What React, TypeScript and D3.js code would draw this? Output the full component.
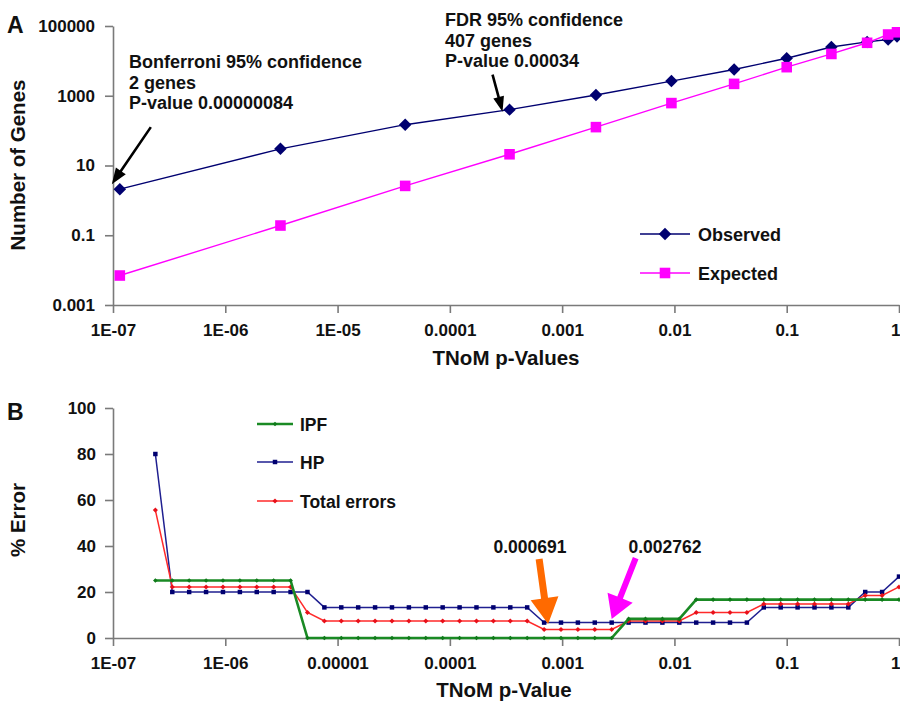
import React, { useEffect, useRef } from 'react';
import * as d3 from 'd3';

// ---- panel A: observed vs expected gene counts
const pValuesA = [1.15e-7, 3.1e-6, 4e-5, 3.4e-4, 2e-3, 9.4e-3, 0.034, 0.1, 0.25, 0.52, 0.8, 0.96];
const observed = [2.1, 30, 148, 400, 1050, 2630, 5650, 11900, 25000, 35000, 41000, 50000];
const expected = [0.007, 0.19, 2.6, 21, 126, 616, 2190, 6600, 15800, 33000, 57000, 66000];

const xTicks = [1e-7, 1e-6, 1e-5, 1e-4, 1e-3, 1e-2, 0.1, 1];
const xLabelsA = ['1E-07', '1E-06', '1E-05', '0.0001', '0.001', '0.01', '0.1', '1'];
const xLabelsB = ['1E-07', '1E-06', '0.00001', '0.0001', '0.001', '0.01', '0.1', '1'];
const yTicksA = [0.001, 0.1, 10, 1000, 100000];
const yLabelsA = ['0.001', '0.1', '10', '1000', '100000'];

// ---- panel B: % error by p-value cutoff
const pValuesB = [
  2.384e-7, 3.372e-7, 4.768e-7, 6.743e-7, 9.537e-7, 1.349e-6, 1.907e-6, 2.697e-6, 3.815e-6,
  5.395e-6, 7.629e-6, 1.079e-5, 1.526e-5, 2.158e-5, 3.052e-5, 4.316e-5, 6.104e-5, 8.63e-5,
  1.221e-4, 1.726e-4, 2.441e-4, 3.453e-4, 4.883e-4, 6.91e-4, 9.766e-4, 1.381e-3, 1.953e-3,
  2.762e-3, 3.906e-3, 5.524e-3, 7.813e-3, 1.105e-2, 1.563e-2, 2.21e-2, 3.125e-2, 4.419e-2,
  6.25e-2, 8.839e-2, 0.125, 0.1768, 0.25, 0.3536, 0.5, 0.7071, 1,
];
const ipf = [
  25, 25, 25, 25, 25, 25, 25, 25, 25,
  0, 0, 0, 0, 0, 0, 0, 0, 0, 0, 0, 0, 0, 0, 0, 0, 0, 0, 0,
  8.3, 8.3, 8.3, 8.3,
  16.7, 16.7, 16.7, 16.7, 16.7, 16.7, 16.7, 16.7, 16.7, 16.7, 16.7, 16.7, 16.7,
];
const hp = [
  80,
  20, 20, 20, 20, 20, 20, 20, 20, 20,
  13.3, 13.3, 13.3, 13.3, 13.3, 13.3, 13.3, 13.3, 13.3, 13.3, 13.3, 13.3, 13.3,
  6.7, 6.7, 6.7, 6.7, 6.7, 6.7, 6.7, 6.7, 6.7, 6.7, 6.7, 6.7, 6.7,
  13.3, 13.3, 13.3, 13.3, 13.3, 13.3,
  20, 20,
  26.7,
];
const totalErr = [
  55.6,
  22.2, 22.2, 22.2, 22.2, 22.2, 22.2, 22.2, 22.2,
  11.1,
  7.4, 7.4, 7.4, 7.4, 7.4, 7.4, 7.4, 7.4, 7.4, 7.4, 7.4, 7.4, 7.4,
  3.7, 3.7, 3.7, 3.7, 3.7,
  7.4, 7.4, 7.4, 7.4,
  11.1, 11.1, 11.1, 11.1,
  14.8, 14.8, 14.8, 14.8, 14.8, 14.8,
  18.5, 18.5,
  22.2,
];
const yTicksB = [0, 20, 40, 60, 80, 100];

const FONT = '"Liberation Sans", Arial, sans-serif';
const AXIS = '#7a7a7a';

type Pt = [number, number];

// polygon for a filled arrow from (x1,y1) to tip (x2,y2)
function blockArrow(x1: number, y1: number, x2: number, y2: number, shaftW: number, headLen: number, headW: number) {
  const L = Math.hypot(x2 - x1, y2 - y1);
  const ux = (x2 - x1) / L, uy = (y2 - y1) / L;
  const px = -uy, py = ux;
  const bx = x2 - ux * headLen, by = y2 - uy * headLen;
  const pts: Pt[] = [
    [x1 + px * shaftW / 2, y1 + py * shaftW / 2],
    [bx + px * shaftW / 2, by + py * shaftW / 2],
    [bx + px * headW / 2, by + py * headW / 2],
    [x2, y2],
    [bx - px * headW / 2, by - py * headW / 2],
    [bx - px * shaftW / 2, by - py * shaftW / 2],
    [x1 - px * shaftW / 2, y1 - py * shaftW / 2],
  ];
  return 'M' + pts.map(p => p.join(',')).join('L') + 'Z';
}

const App = () => {
  const svgRef = useRef<SVGSVGElement>(null);

  useEffect(() => {
    const svg = d3.select(svgRef.current);
    svg.selectAll('*').remove();
    svg.style('font-family', FONT);

    const xA = d3.scaleLog().domain([1e-7, 1]).range([113, 899]);
    const yA = d3.scaleLog().domain([0.001, 100000]).range([305, 26]);
    const xB = d3.scaleLog().domain([1e-7, 1]).range([113, 899]);
    const yB = d3.scaleLinear().domain([0, 100]).range([638, 408]);

    const styleAxis = (g: any, size: number) => {
      g.select('.domain').attr('stroke', AXIS).attr('stroke-width', 1.6);
      g.selectAll('.tick line').attr('stroke', AXIS).attr('stroke-width', 1.6);
      g.selectAll('.tick text')
        .attr('fill', '#111')
        .style('font-family', FONT)
        .style('font-weight', 'bold')
        .style('font-size', `${size}px`);
      // the last x label sits on the right edge: keep it inside the page
      g.selectAll('.tick text').filter((d: number) => d === 1 && g.attr('data-x') === '1')
        .attr('text-anchor', 'end').attr('dx', '1');
    };

    // ---------- Panel A ----------
    const gA = svg.append('g');
    const axA = gA.append('g').attr('data-x', '1').attr('transform', 'translate(0,305)')
      .call(d3.axisBottom(xA).tickValues(xTicks).tickFormat((_d, i) => xLabelsA[i]).tickSize(8).tickSizeOuter(0).tickPadding(11));
    styleAxis(axA, 17);
    const ayA = gA.append('g').attr('transform', 'translate(113,0)')
      .call(d3.axisLeft(yA).tickValues(yTicksA).tickFormat((_d, i) => yLabelsA[i]).tickSize(8).tickSizeOuter(0).tickPadding(10));
    styleAxis(ayA, 17);

    const lineA = d3.line<number>().x((_d, i) => xA(pValuesA[i])).y(d => yA(d));
    const NAVY = '#000070';
    const PINK = '#ff00ff';

    gA.append('path').datum(observed).attr('d', lineA).attr('fill', 'none').attr('stroke', NAVY).attr('stroke-width', 1.4);
    gA.selectAll('.obs').data(observed).enter().append('path')
      .attr('d', d3.symbol().type(d3.symbolSquare).size(78)())
      .attr('transform', (d, i) => `translate(${xA(pValuesA[i])},${yA(d)}) rotate(45)`)
      .attr('fill', NAVY);

    gA.append('path').datum(expected).attr('d', lineA).attr('fill', 'none').attr('stroke', PINK).attr('stroke-width', 1.4);
    gA.selectAll('.exp').data(expected).enter().append('path')
      .attr('d', d3.symbol().type(d3.symbolSquare).size(112)())
      .attr('transform', (d, i) => `translate(${xA(pValuesA[i])},${yA(d)})`)
      .attr('fill', PINK);

    // legend A
    const legA = [
      { name: 'Observed', color: NAVY, y: 234, sym: 'd' },
      { name: 'Expected', color: PINK, y: 273, sym: 's' },
    ];
    legA.forEach(l => {
      gA.append('line').attr('x1', 640).attr('x2', 690).attr('y1', l.y).attr('y2', l.y).attr('stroke', l.color).attr('stroke-width', 1.4);
      gA.append('path')
        .attr('d', d3.symbol().type(d3.symbolSquare).size(l.sym === 'd' ? 78 : 112)())
        .attr('transform', `translate(665,${l.y})` + (l.sym === 'd' ? ' rotate(45)' : ''))
        .attr('fill', l.color);
      gA.append('text').attr('x', 698).attr('y', l.y + 6.5).text(l.name)
        .style('font-size', '18px').style('font-weight', 'bold').attr('fill', '#111');
    });

    // annotations A
    const annText = (x: number, y0: number, lines: string[]) => {
      lines.forEach((t, i) => {
        gA.append('text').attr('x', x).attr('y', y0 + i * 20.7).text(t)
          .style('font-size', '18px').style('font-weight', 'bold').attr('fill', '#111');
      });
    };
    annText(129, 68, ['Bonferroni 95% confidence', '2 genes', 'P-value 0.00000084']);
    annText(445, 26, ['FDR 95% confidence', '407 genes', 'P-value 0.00034']);

    const bTipX = xA(pValuesA[0]) - 8, bTipY = yA(observed[0]) - 5;
    gA.append('path').attr('d', blockArrow(bTipX + 39, bTipY - 57, bTipX, bTipY, 2.6, 16, 12)).attr('fill', '#000');
    const fTipX = xA(pValuesA[3]) - 7, fTipY = yA(observed[3]) + 2;
    gA.append('path').attr('d', blockArrow(fTipX - 10, fTipY - 37, fTipX, fTipY, 2.6, 15, 11)).attr('fill', '#000');

    gA.append('text').attr('x', 7).attr('y', 33).text('A')
      .style('font-size', '23px').style('font-weight', 'bold').attr('fill', '#111');
    gA.append('text').attr('transform', 'translate(25,165) rotate(-90)').attr('text-anchor', 'middle')
      .text('Number of Genes').style('font-size', '20.5px').style('font-weight', 'bold').attr('fill', '#111');
    gA.append('text').attr('x', 506).attr('y', 365).attr('text-anchor', 'middle')
      .text('TNoM p-Values').style('font-size', '20.5px').style('font-weight', 'bold').attr('fill', '#111');

    // ---------- Panel B ----------
    const gB = svg.append('g');
    const axB = gB.append('g').attr('data-x', '1').attr('transform', 'translate(0,638)')
      .call(d3.axisBottom(xB).tickValues(xTicks).tickFormat((_d, i) => xLabelsB[i]).tickSize(8).tickSizeOuter(0).tickPadding(11));
    styleAxis(axB, 17);
    const ayB = gB.append('g').attr('transform', 'translate(113,0)')
      .call(d3.axisLeft(yB).tickValues(yTicksB).tickFormat(d3.format('d')).tickSize(8).tickSizeOuter(0).tickPadding(9));
    styleAxis(ayB, 17);

    const lineB = d3.line<number>().x((_d, i) => xB(pValuesB[i])).y(d => yB(d));
    const series = [
      { name: 'HP', data: hp, color: '#1f1f90', dot: '#000070', w: 1.5, sym: d3.symbolSquare, size: 20, rot: 0, ly: 462 },
      { name: 'Total errors', data: totalErr, color: '#ff2a2a', dot: '#e8101a', w: 1.5, sym: d3.symbolSquare, size: 13, rot: 45, ly: 501 },
      { name: 'IPF', data: ipf, color: '#1a8a24', dot: '#0f7a1a', w: 2.6, sym: d3.symbolSquare, size: 11, rot: 45, ly: 424 },
    ];
    series.forEach(s => {
      gB.append('path').datum(s.data).attr('d', lineB).attr('fill', 'none').attr('stroke', s.color).attr('stroke-width', s.w);
      gB.selectAll(null).data(s.data).enter().append('path')
        .attr('d', d3.symbol().type(s.sym).size(s.size)())
        .attr('transform', (d, i) => `translate(${xB(pValuesB[i])},${yB(d)}) rotate(${s.rot})`)
        .attr('fill', s.dot);

      gB.append('line').attr('x1', 257).attr('x2', 293).attr('y1', s.ly).attr('y2', s.ly).attr('stroke', s.color).attr('stroke-width', s.w);
      gB.append('path').attr('d', d3.symbol().type(s.sym).size(s.size)())
        .attr('transform', `translate(275,${s.ly}) rotate(${s.rot})`).attr('fill', s.dot);
      gB.append('text').attr('x', 300).attr('y', s.ly + 6.5).text(s.name)
        .style('font-size', '17.5px').style('font-weight', 'bold').attr('fill', '#111');
    });

    // cutoff arrows
    const oTipX = xB(6.91e-4) + 4, oTipY = yB(3.7) - 5.5;
    gB.append('path').attr('d', blockArrow(oTipX - 9, oTipY - 65, oTipX, oTipY, 7, 26, 28)).attr('fill', '#ff6a00');
    const mTipX = xB(2.762e-3), mTipY = yB(6.7) - 3.5;
    gB.append('path').attr('d', blockArrow(mTipX + 24, mTipY - 61, mTipX, mTipY, 6, 23, 27)).attr('fill', '#ff00ff');
    gB.append('text').attr('x', 530).attr('y', 553).attr('text-anchor', 'middle').text('0.000691')
      .style('font-size', '17.5px').style('font-weight', 'bold').attr('fill', '#111');
    gB.append('text').attr('x', 665).attr('y', 553).attr('text-anchor', 'middle').text('0.002762')
      .style('font-size', '17.5px').style('font-weight', 'bold').attr('fill', '#111');

    gB.append('text').attr('x', 7).attr('y', 420).text('B')
      .style('font-size', '23px').style('font-weight', 'bold').attr('fill', '#111');
    gB.append('text').attr('transform', 'translate(25,520) rotate(-90)').attr('text-anchor', 'middle')
      .text('% Error').style('font-size', '20.5px').style('font-weight', 'bold').attr('fill', '#111');
    gB.append('text').attr('x', 504).attr('y', 697).attr('text-anchor', 'middle')
      .text('TNoM p-Value').style('font-size', '20.5px').style('font-weight', 'bold').attr('fill', '#111');
  }, []);

  return (
    <svg
      ref={svgRef}
      width={900}
      height={701}
      style={{ position: 'absolute', left: 0, top: 0, background: '#fff' }}
    />
  );
};

export default App;
